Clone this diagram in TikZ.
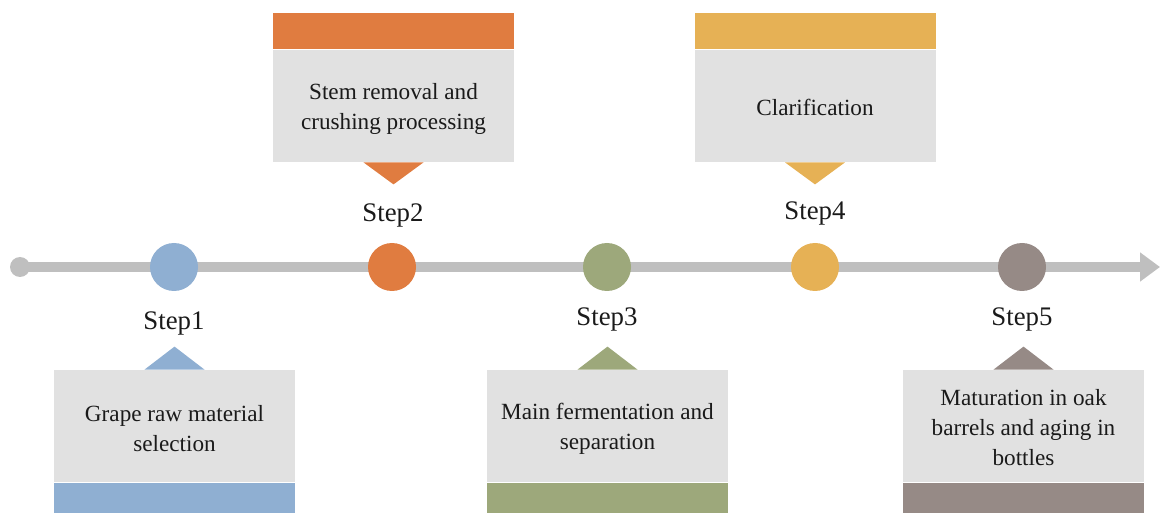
\documentclass[tikz,border=0pt]{standalone}
\usepackage{fontspec}
\setmainfont{Liberation Serif}
\usetikzlibrary{arrows.meta}
\usetikzlibrary{calc}
\usetikzlibrary{positioning}
\definecolor{tlline}{HTML}{BFBFBF}
\definecolor{tlgray}{HTML}{E1E1E1}
\definecolor{tlink}{HTML}{1A1A1A}
\definecolor{tlblue}{HTML}{8FAFD2}
\definecolor{tlorange}{HTML}{E07C40}
\definecolor{tlgreen}{HTML}{9DA87B}
\definecolor{tlyellow}{HTML}{E6B155}
\definecolor{tltaupe}{HTML}{968A86}
\tikzset{
  tlaxis/.style={
    -{Triangle[length=10pt, width=14pt]}, draw=tlline, line width=5pt},
  tlstart/.style={
    circle, fill=tlline, minimum size=10pt, inner sep=0pt},
  tldot/.style={
    circle, minimum size=24pt, inner sep=0pt},
  tlbody/.style={
    fill=tlgray, minimum width=120.5pt, minimum height=56pt,
    inner sep=0pt},
  tltext/.style={
    align=center, text=tlink, inner sep=0pt,
    font=\fontsize{11.6}{15}\selectfont},
  tlbar/.style={
    minimum width=120.5pt, inner sep=0pt},
  tlstep/.style={font=\fontsize{13.4}{16}\selectfont, text=tlink},
}

\begin{document}
\begin{tikzpicture}[x=0.5pt, y=-0.5pt]
\useasboundingbox (0,0) rectangle (1162,513);

% The time axis.
\node[tlstart] (start) at (20,267) {};
\coordinate (end) at (1160,267);
\draw[tlaxis] (start.center) -- (end);

% Milestones on the axis.
\node[tldot, fill=tlblue] (dot1) at (174,267) {};
\node[tldot, fill=tlorange] (dot2) at (392,267) {};
\node[tldot, fill=tlgreen] (dot3) at (607,267) {};
\node[tldot, fill=tlyellow] (dot4) at (815,267) {};
\node[tldot, fill=tltaupe] (dot5) at (1022,267) {};

\node[tlstep] (step1) at (174,323) {Step1};
\node[tlstep] (step2) at (393,215) {Step2};
\node[tlstep] (step3) at (607,319) {Step3};
\node[tlstep] (step4) at (815,213) {Step4};
\node[tlstep] (step5) at (1022,319) {Step5};

% Boxes below the axis.
\node[tlbody] (body1) at (174.5,426) {};
\node[tltext] (text1) at ($(body1.center)+(0,3)$)
  {Grape raw material\\selection};
\node[tlbar, fill=tlblue, minimum height=15.5pt,
      below=0pt of body1] (bar1) {};
\fill[tlblue] ($(body1.north)+(-30,0)$) -- ($(body1.north)+(30,0)$)
  -- ($(body1.north)+(0,-23)$) -- cycle;

\node[tlbody] (body3) at (607.5,426) {};
\node[tltext] (text3) at ($(body3.center)+(0,3)$)
  {Main fermentation and\\separation};
\node[tlbar, fill=tlgreen, minimum height=15.5pt,
      below=0pt of body3] (bar3) {};
\fill[tlgreen] ($(body3.north)+(-30,0)$) -- ($(body3.north)+(30,0)$)
  -- ($(body3.north)+(0,-23)$) -- cycle;

\node[tlbody] (body5) at (1023.5,426) {};
\node[tltext] (text5) at ($(body5.center)+(0,2)$)
  {Maturation in oak\\barrels and aging in\\bottles};
\node[tlbar, fill=tltaupe, minimum height=15.5pt,
      below=0pt of body5] (bar5) {};
\fill[tltaupe] ($(body5.north)+(-30,0)$) -- ($(body5.north)+(30,0)$)
  -- ($(body5.north)+(0,-23)$) -- cycle;

% Boxes above the axis.
\node[tlbody] (body2) at (393.5,106) {};
\node[tltext] (text2) at ($(body2.center)+(0,3)$)
  {Stem removal and\\crushing processing};
\node[tlbar, fill=tlorange, minimum height=18pt,
      above=0pt of body2] (bar2) {};
\fill[tlorange] ($(body2.south)+(-30,0)$) -- ($(body2.south)+(30,0)$)
  -- ($(body2.south)+(0,22)$) -- cycle;

\node[tlbody] (body4) at (815,106) {};
\node[tltext] (text4) at ($(body4.center)+(0,1)$) {Clarification};
\node[tlbar, fill=tlyellow, minimum height=18pt,
      above=0pt of body4] (bar4) {};
\fill[tlyellow] ($(body4.south)+(-30,0)$) -- ($(body4.south)+(30,0)$)
  -- ($(body4.south)+(0,22)$) -- cycle;

\end{tikzpicture}
\end{document}
